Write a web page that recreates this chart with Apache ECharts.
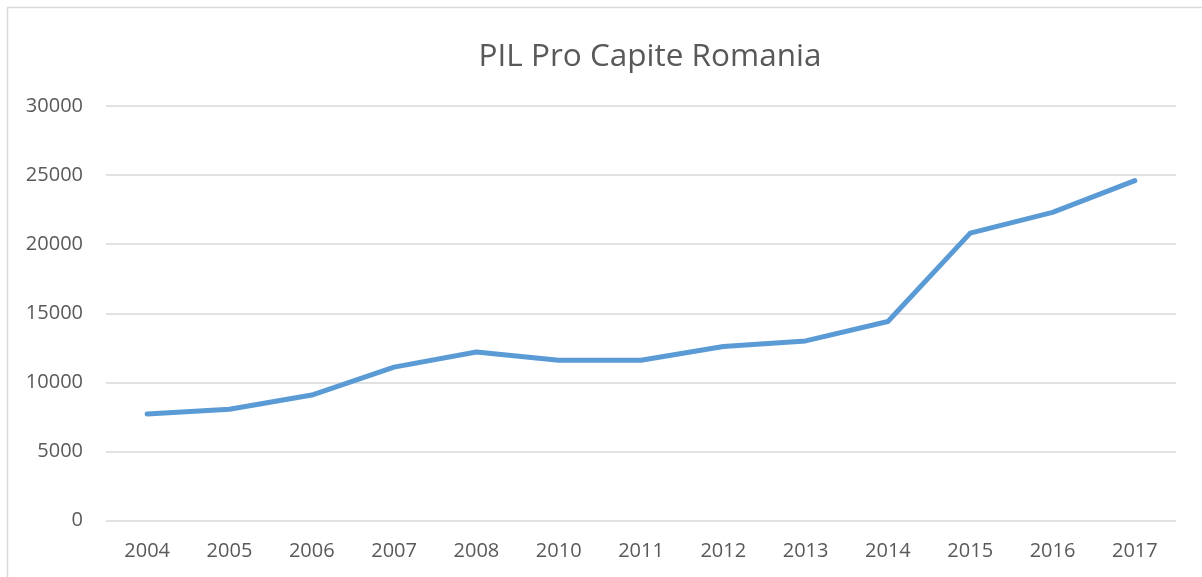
<!DOCTYPE html>
<html>
<head>
<meta charset="utf-8">
<script src="https://cdn.jsdelivr.net/npm/echarts@6/dist/echarts.min.js"></script>
<style>
  html, body { margin: 0; padding: 0; background: #fff; }
  #chart { width: 1202px; height: 577px; }
</style>
</head>
<body>
<div id="chart"></div>
<script>
// valori
const years = ['2004', '2005', '2006', '2007', '2008', '2010', '2011', '2012', '2013', '2014', '2015', '2016', '2017']
const pilValues = [7700, 8050, 9080, 11100, 12200, 11600, 11600, 12600, 13000, 14400, 20800, 22300, 24600]

const textColor = '#595959'
const fontFamily = '"Open Sans", "Liberation Sans", sans-serif'

const chart = echarts.init(document.getElementById('chart'))

chart.setOption({
  animation: false,
  textStyle: { fontFamily, color: textColor },
  title: {
    text: 'PIL Pro Capite Romania',
    left: 645,
    textAlign: 'center',
    top: 36,
    textStyle: {
      fontSize: 31.5,
      fontWeight: 'normal',
      color: textColor,
      fontFamily,
    },
  },
  graphic: [{
    type: 'rect',
    shape: { x: 7.5, y: 7.5, width: 1300, height: 700 },
    style: { fill: 'none', stroke: '#d9d9d9', lineWidth: 1.5 },
    silent: true,
  }],
  grid: {
    left: 106,
    right: 26,
    top: 106,
    bottom: 56.5,
    containLabel: false,
  },
  xAxis: {
    type: 'category',
    boundaryGap: true,
    data: years,
    axisLine: { show: false },
    axisTick: { show: false },
    axisLabel: {
      margin: 21,
      fontSize: 20,
      color: textColor,
      fontFamily,
    },
  },
  yAxis: {
    type: 'value',
    min: 0,
    max: 30000,
    interval: 5000,
    axisLine: { show: false },
    axisTick: { show: false },
    axisLabel: {
      margin: 23,
      fontSize: 20,
      color: textColor,
      fontFamily,
      formatter: (v) => String(v),
    },
    splitLine: {
      lineStyle: { color: '#d9d9d9', width: 1.5 },
    },
  },
  series: [{
    name: 'PIL Pro Capite',
    type: 'line',
    data: pilValues,
    symbol: 'none',
    lineStyle: { color: '#5b9bd5', width: 5, cap: 'round', join: 'round' },
    itemStyle: { color: '#5b9bd5' },
  }],
})
</script>
</body>
</html>
